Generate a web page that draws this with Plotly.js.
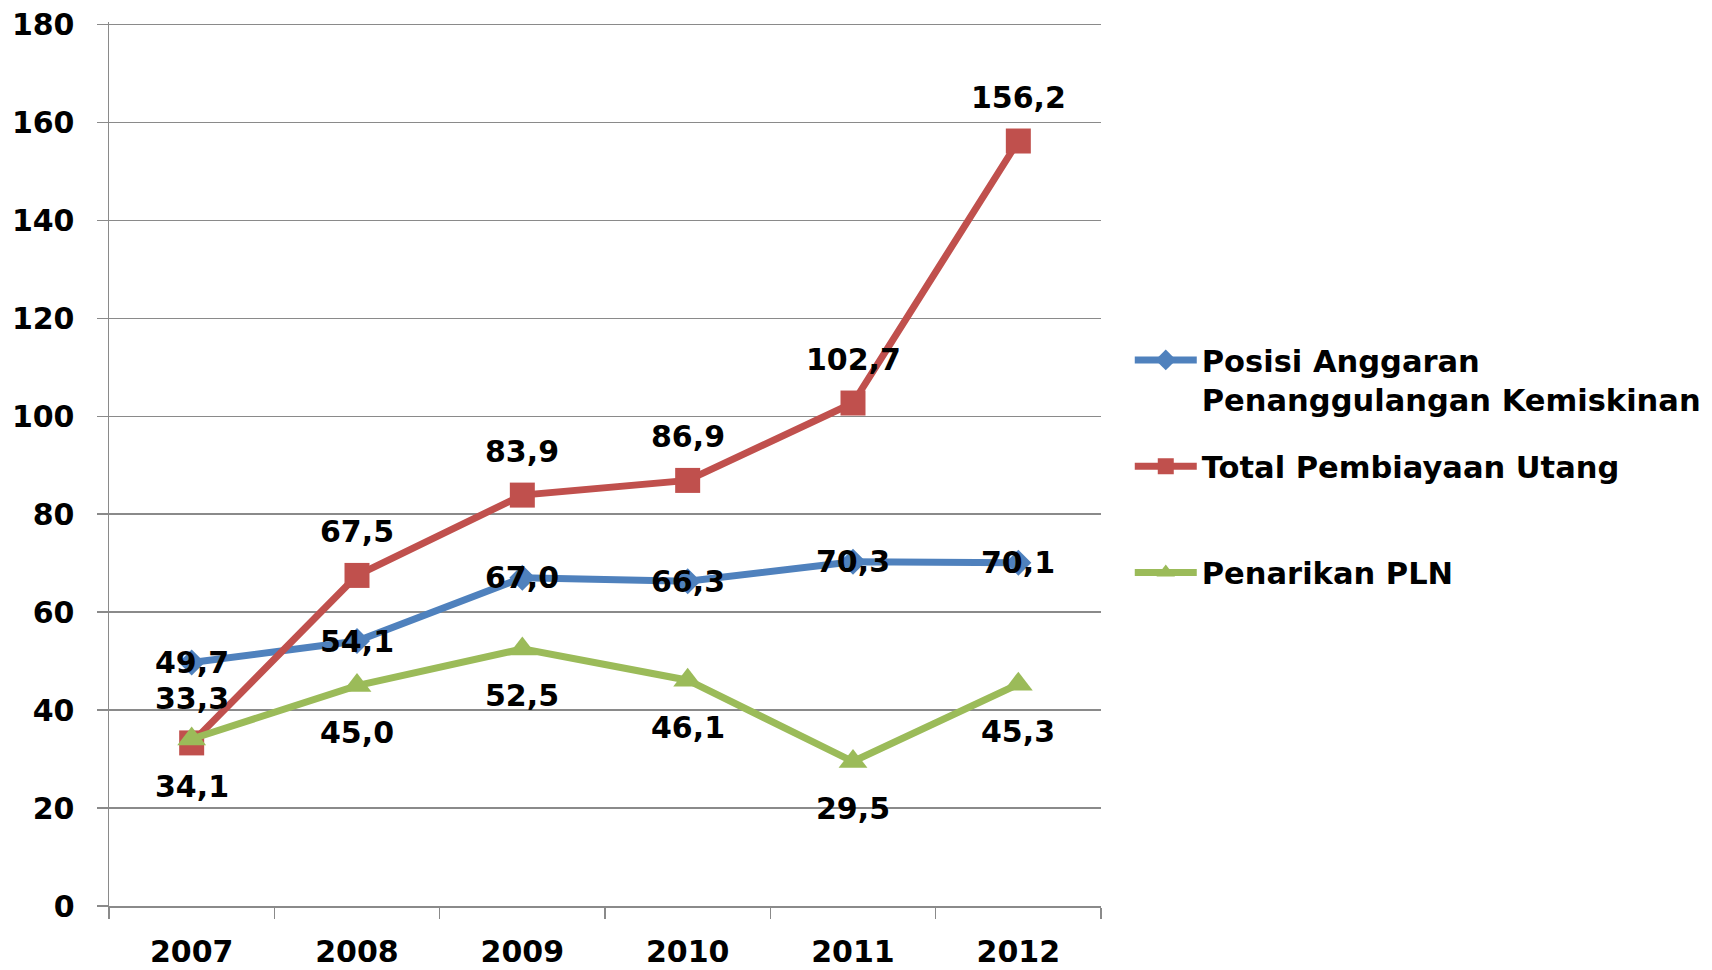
<!DOCTYPE html>
<html>
<head>
<meta charset="utf-8">
<script src="https://cdn.plot.ly/plotly-3.0.1.min.js"></script>
<style>
html,body{margin:0;padding:0;background:#fff;}
#chart{width:1712px;height:970px;}
</style>
</head>
<body>
<div id="chart"></div>
<script>
const years = ["2007", "2008", "2009", "2010", "2011", "2012"];
const seriesNames = ["Posisi Anggaran<br>Penanggulangan Kemiskinan", "Total Pembiayaan Utang<br> ", "Penarikan PLN<br> "];
const posisiAnggaran = [49.7, 54.1, 67.0, 66.3, 70.3, 70.1];
const totalPembiayaan = [33.3, 67.5, 83.9, 86.9, 102.7, 156.2];
const penarikanPLN = [34.1, 45.0, 52.5, 46.1, 29.5, 45.3];
const yTicks = [0, 20, 40, 60, 80, 100, 120, 140, 160, 180];

const FONT = "DejaVu Sans, Liberation Sans, Arial, sans-serif";
const GRAY = "#8a8a8a";
const fmt = v => v.toFixed(1).replace(".", ",");

const traces = [
  {x: years, y: posisiAnggaran, name: seriesNames[0], legendgroup: "a", type: "scatter", mode: "lines+markers",
   line: {color: "#4F81BD", width: 7}, marker: {symbol: "diamond", size: 20, color: "#4F81BD"}},
  {x: years, y: totalPembiayaan, name: seriesNames[1], legendgroup: "b", type: "scatter", mode: "lines+markers",
   line: {color: "#C0504D", width: 7}, marker: {symbol: "square", size: 25, color: "#C0504D"}},
  {x: years, y: penarikanPLN, name: seriesNames[2], legendgroup: "c", type: "scatter", mode: "lines+markers",
   line: {color: "#9BBB59", width: 7}, marker: {symbol: "triangle-up", size: 25, color: "#9BBB59"}}
];

const labelFont = {family: FONT, size: 30, color: "#000", weight: "bold"};
const annotations = [];
years.forEach((yr, i) => {
  annotations.push({x: i, y: posisiAnggaran[i], text: fmt(posisiAnggaran[i]), showarrow: false, font: labelFont});
  annotations.push({x: i, y: totalPembiayaan[i], text: fmt(totalPembiayaan[i]), showarrow: false, font: labelFont, yshift: 44});
  annotations.push({x: i, y: penarikanPLN[i], text: fmt(penarikanPLN[i]), showarrow: false, font: labelFont, yshift: -47});
});

const layout = {
  width: 1712, height: 970,
  margin: {l: 109, r: 611, t: 22, b: 64, autoexpand: false},
  paper_bgcolor: "#fff", plot_bgcolor: "#fff",
  font: {family: FONT, size: 30, color: "#000", weight: "bold"},
  showlegend: true,
  hovermode: false,
  xaxis: {
    type: "category", range: [-0.5, 5.5], showgrid: false, zeroline: false, automargin: false,
    showline: true, linecolor: GRAY, linewidth: 1.5,
    ticks: "outside", tickson: "boundaries", ticklen: 11, tickcolor: GRAY, tickwidth: 1.5,
    ticklabelstandoff: 18,
    tickfont: {family: FONT, size: 30, color: "#000", weight: "bold"}
  },
  yaxis: {
    range: [0, 180.5], tickvals: yTicks, ticktext: yTicks.map(String), automargin: false,
    showgrid: true, gridcolor: GRAY, gridwidth: 1.5, zeroline: false,
    showline: true, linecolor: GRAY, linewidth: 1.5,
    ticks: "outside", ticklen: 11, tickcolor: GRAY, tickwidth: 1.5,
    ticklabelstandoff: 16,
    tickfont: {family: FONT, size: 30, color: "#000", weight: "bold"}
  },
  legend: {
    x: 1.029, xanchor: "left", y: 0.6475, yanchor: "top",
    valign: "top", tracegroupgap: 24, itemwidth: 62, borderwidth: 0, bgcolor: "rgba(0,0,0,0)",
    font: {family: FONT, size: 30.5, color: "#000", weight: "bold"}
  },
  annotations: annotations
};

Plotly.newPlot("chart", traces, layout, {displayModeBar: false, staticPlot: true});
</script>
</body>
</html>
